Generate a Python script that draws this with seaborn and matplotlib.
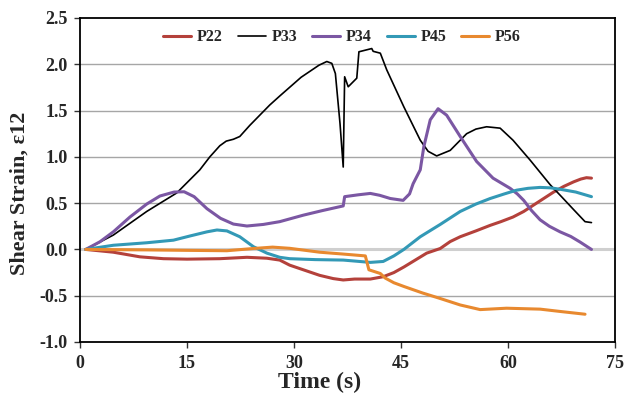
import matplotlib
matplotlib.use("Agg")
import matplotlib.pyplot as plt
import seaborn as sns
import pandas as pd

# ---- data ----
t_p22 = [0.8, 4.67, 8.4, 11.7, 15.0, 19.6, 23.4, 26.2, 28.0, 29.4, 31.5, 33.6, 35.5, 36.9, 38.5, 40.7, 42.5, 44.0, 45.4, 47.0, 48.6, 50.5, 51.9, 53.3, 55.5, 57.5, 59.0, 60.7, 62.2, 63.6, 65.0, 66.4, 67.8, 69.2, 70.2, 71.0, 71.7]
v_p22 = [0.0, -0.03, -0.08, -0.10, -0.105, -0.10, -0.085, -0.095, -0.115, -0.17, -0.225, -0.28, -0.315, -0.33, -0.32, -0.32, -0.295, -0.25, -0.19, -0.115, -0.04, 0.01, 0.085, 0.137, 0.20, 0.26, 0.30, 0.35, 0.41, 0.48, 0.55, 0.62, 0.68, 0.73, 0.76, 0.775, 0.77]

t_p33 = [0.8, 4.67, 9.35, 13.56, 16.8, 18.2, 19.6, 20.5, 21.5, 22.4, 23.8, 26.6, 28.04, 31.0, 33.5, 34.6, 35.3, 35.8, 36.45, 36.9, 37.1, 37.6, 38.8, 39.1, 40.9, 41.1, 42.1, 43.0, 45.4, 47.7, 48.8, 50.0, 51.9, 54.2, 55.5, 57.0, 58.9, 60.7, 63.1, 65.9, 67.5, 69.2, 70.8, 71.7]
v_p33 = [0.0, 0.155, 0.41, 0.61, 0.86, 1.0, 1.12, 1.17, 1.19, 1.22, 1.34, 1.56, 1.66, 1.86, 1.99, 2.03, 2.01, 1.90, 1.36, 0.89, 1.865, 1.757, 1.85, 2.135, 2.17, 2.14, 2.12, 1.94, 1.54, 1.18, 1.06, 1.01, 1.07, 1.25, 1.30, 1.325, 1.31, 1.18, 0.965, 0.70, 0.57, 0.43, 0.30, 0.29]

t_p34 = [0.8, 2.8, 4.67, 7.0, 9.35, 11.2, 13.2, 14.6, 16.0, 17.8, 19.7, 21.5, 23.4, 25.7, 28.0, 31.3, 34.0, 36.9, 37.1, 39.0, 40.7, 42.0, 43.5, 45.3, 46.2, 46.7, 47.7, 48.2, 49.1, 50.2, 51.4, 53.3, 55.6, 57.9, 60.3, 61.3, 62.2, 63.3, 64.5, 65.8, 67.3, 68.8, 70.1, 71.7]
v_p34 = [0.0, 0.083, 0.19, 0.35, 0.49, 0.577, 0.62, 0.623, 0.57, 0.44, 0.336, 0.274, 0.253, 0.27, 0.30, 0.37, 0.42, 0.47, 0.57, 0.59, 0.605, 0.585, 0.55, 0.53, 0.6, 0.71, 0.86, 1.11, 1.40, 1.52, 1.45, 1.22, 0.95, 0.77, 0.66, 0.6, 0.53, 0.42, 0.32, 0.25, 0.19, 0.14, 0.08, 0.0]

t_p45 = [0.8, 4.67, 9.35, 13.1, 15.4, 17.8, 19.2, 20.6, 22.4, 24.3, 26.2, 28.0, 29.4, 33.0, 36.9, 40.7, 42.5, 44.0, 45.4, 47.7, 50.5, 53.3, 55.5, 57.5, 59.5, 61.2, 62.8, 64.5, 66.0, 67.3, 69.5, 71.7]
v_p45 = [0.0, 0.045, 0.072, 0.10, 0.145, 0.19, 0.21, 0.20, 0.137, 0.03, -0.04, -0.085, -0.10, -0.11, -0.115, -0.14, -0.13, -0.07, 0.0, 0.137, 0.27, 0.41, 0.49, 0.55, 0.60, 0.64, 0.66, 0.67, 0.665, 0.65, 0.62, 0.57]

t_p56 = [0.8, 9.35, 15.0, 20.6, 24.3, 27.0, 29.4, 33.6, 36.9, 40.0, 40.5, 42.1, 42.8, 44.0, 45.4, 48.0, 50.5, 53.3, 56.1, 59.8, 64.5, 67.3, 70.8]
v_p56 = [0.0, -0.005, -0.01, -0.014, 0.01, 0.025, 0.012, -0.03, -0.05, -0.07, -0.22, -0.26, -0.31, -0.36, -0.40, -0.47, -0.53, -0.60, -0.65, -0.635, -0.645, -0.67, -0.70]

names = ["P22", "P33", "P34", "P45", "P56"]
colors = ["#B4413B", "#000000", "#7B57A3", "#3399B6", "#E8892F"]
widths = [2.2, 1.2, 2.2, 2.2, 2.2]
series = [(t_p22, v_p22), (t_p33, v_p33), (t_p34, v_p34), (t_p45, v_p45), (t_p56, v_p56)]

x_ticks = [0, 15, 30, 45, 60, 75]
y_ticks = [-1.0, -0.5, 0.0, 0.5, 1.0, 1.5, 2.0, 2.5]

sns.set_style("white")
plt.rcParams["font.family"] = ["Liberation Serif", "DejaVu Serif"]
plt.rcParams["font.weight"] = "bold"

fig = plt.figure(figsize=(6.28, 4.04), dpi=100)
ax = fig.add_axes([80 / 628, 1 - 342 / 404, (615 - 80) / 628, (342 - 18) / 404])

for yv in y_ticks:
    if yv == 0.0:
        ax.axhline(yv, color="#CFCFCF", lw=2.2, zorder=0)
    elif yv != 2.5 and yv != -1.0:
        ax.axhline(yv, color="#A6A6A6", lw=1.0, zorder=0)

for name, (t, v), c, w in zip(names, series, colors, widths):
    df = pd.DataFrame({"t": t, "v": v})
    sns.lineplot(data=df, x="t", y="v", ax=ax, color=c, lw=w, label=name,
                 estimator=None, sort=False)

ax.set_xlim(0, 75)
ax.set_ylim(-1.0, 2.5)
ax.set_xticks(x_ticks)
ax.set_yticks(y_ticks)
ax.set_yticklabels([f"{y:.1f}" for y in y_ticks])
ax.tick_params(axis="both", direction="out", length=4, width=1, color="#333333",
               labelsize=13, pad=5, left=True, bottom=True)
for lab in ax.get_xticklabels() + ax.get_yticklabels():
    lab.set_fontweight("bold")
for sp in ax.spines.values():
    sp.set_visible(True)
    sp.set_color("black")
    sp.set_linewidth(1.3)

ax.set_xlabel("Time (s)", fontsize=17, fontweight="bold")
ax.xaxis.set_label_coords(0.448, -0.093)
ax.set_ylabel("Shear Strain, ε12", fontsize=16, fontweight="bold")
ax.yaxis.set_label_coords(-0.095, 0.46)

leg = ax.legend(loc="upper center", bbox_to_anchor=(0.49, 1.0), ncol=5, frameon=False,
                prop={"weight": "bold", "size": 11.5}, handlelength=1.75,
                columnspacing=0.95, handletextpad=0.35, borderaxespad=0.3)

fig.savefig("out.png", dpi=100)
